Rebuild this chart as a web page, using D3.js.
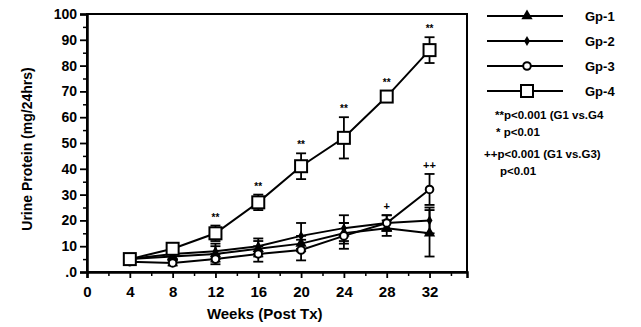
<!DOCTYPE html>
<html>
<head>
<meta charset="utf-8">
<script src="https://cdn.jsdelivr.net/npm/d3@7"></script>
<style>
  body { margin: 0; background: #fff; }
  text { font-family: "Liberation Sans", Arial, sans-serif; font-weight: bold; fill: #000; }
</style>
</head>
<body>
<div id="chart"></div>
<script>
// data
var weeks = [4, 8, 12, 16, 20, 24, 28, 32];
var gp1 = [5, 6, 7, 9, 11, 15, 17, 15];
var gp1Err = [1, 1.5, 3, 3, 3, 4, 3, 9];
var gp2 = [5, 7, 8, 10, 14, 17, 19, 20];
var gp2Err = [1, 2, 3, 3, 5, 5, 3, 5];
var gp3 = [4, 3.5, 5, 7, 8.5, 14, 19, 32];
var gp3Err = [1, 1, 2, 3, 4, 5, 3, 6];
var gp4 = [5, 9, 15, 27, 41, 52, 68, 86];
var gp4Err = [1, 1, 3, 3, 5, 8, 2, 5];
var xTicks = [0, 4, 8, 12, 16, 20, 24, 28, 32];
var yTicks = [0, 10, 20, 30, 40, 50, 60, 70, 80, 90, 100];
var gp4Marks = ["", "", "**", "**", "**", "**", "**", "**"];
var gp3Marks = ["", "", "", "", "", "", "+", "++"];
var legendNames = ["Gp-1", "Gp-2", "Gp-3", "Gp-4"];
var noteLines = ["**p<0.001  (G1 vs.G4", "* p<0.01", "++p<0.001  (G1 vs.G3)", "p<0.01"];

var margin = {top: 14, right: 174, bottom: 55, left: 87},
  width = 641 - margin.left - margin.right,
  height = 327 - margin.top - margin.bottom;

var svgRoot = d3.select("#chart").append("svg")
  .attr("width", 641).attr("height", 327);
var svg = svgRoot.append("g")
  .attr("transform", "translate(" + margin.left + "," + margin.top + ")");

var x = d3.scaleLinear().domain([0, 35.5]).range([0, width]);
var y = d3.scaleLinear().domain([0, 100]).range([height, 0]);

// frame
svg.append("rect").attr("width", width).attr("height", height)
  .attr("fill", "none").attr("stroke", "#000").attr("stroke-width", 2);

// minor ticks
svg.append("g").call(d3.axisLeft(y).tickValues(d3.range(5, 100, 10)).tickSize(4).tickFormat(""))
  .call(function(g) { g.select(".domain").remove(); })
  .selectAll("line").attr("stroke-width", 1.5);
svg.append("g").attr("transform", "translate(0," + height + ")")
  .call(d3.axisBottom(x).tickValues(d3.range(2, 35, 4)).tickSize(4).tickFormat(""))
  .call(function(g) { g.select(".domain").remove(); })
  .selectAll("line").attr("stroke-width", 1.5);

// major axes
var yAxis = svg.append("g")
  .call(d3.axisLeft(y).tickValues(yTicks).tickSize(7).tickPadding(3)
    .tickFormat(function(d) { return d === 0 ? ".0" : d; }));
yAxis.select(".domain").attr("stroke-width", 2.5);
yAxis.selectAll("line").attr("stroke-width", 1.8);
yAxis.selectAll("text").style("font-size", "14px");

var xAxis = svg.append("g").attr("transform", "translate(0," + height + ")")
  .call(d3.axisBottom(x).tickValues(xTicks).tickSize(6).tickPadding(8));
xAxis.select(".domain").attr("stroke-width", 2.5);
xAxis.selectAll("line").attr("stroke-width", 1.8);
xAxis.selectAll("text").style("font-size", "15px");

// axis titles
svgRoot.append("text")
  .attr("transform", "translate(32," + (margin.top + height / 2 + 6) + ")rotate(-90)")
  .attr("text-anchor", "middle").style("font-size", "14px")
  .text("Urine Protein (mg/24hrs)");
svgRoot.append("text")
  .attr("x", margin.left + x(16.6)).attr("y", 319)
  .attr("text-anchor", "middle").style("font-size", "15px")
  .text("Weeks (Post Tx)");

var groups = [
  {name: "Gp-1", vals: gp1, err: gp1Err, marker: "triangle"},
  {name: "Gp-2", vals: gp2, err: gp2Err, marker: "diamond"},
  {name: "Gp-3", vals: gp3, err: gp3Err, marker: "circle"},
  {name: "Gp-4", vals: gp4, err: gp4Err, marker: "square"}
];

function drawMarker(sel, type) {
  if (type === "square") {
    sel.append("rect").attr("x", -6).attr("y", -6).attr("width", 12).attr("height", 12)
      .attr("fill", "#fff").attr("stroke", "#000").attr("stroke-width", 2);
  } else if (type === "circle") {
    sel.append("circle").attr("r", 3.8)
      .attr("fill", "#fff").attr("stroke", "#000").attr("stroke-width", 2);
  } else if (type === "triangle") {
    sel.append("path").attr("d", d3.symbol().type(d3.symbolTriangle).size(55))
      .attr("fill", "#000");
  } else {
    sel.append("path").attr("d", d3.symbol().type(d3.symbolDiamond).size(30))
      .attr("fill", "#000");
  }
}

var line = d3.line()
  .x(function(d) { return x(d[0]); })
  .y(function(d) { return y(d[1]); });

groups.forEach(function(gp) {
  var pts = weeks.map(function(w, i) { return [w, gp.vals[i], gp.err[i]]; });
  var g = svg.append("g");
  // error bars
  var eb = g.selectAll(".eb").data(pts).enter().append("g")
    .attr("stroke", "#000").attr("stroke-width", 1.8);
  eb.append("line")
    .attr("x1", function(d) { return x(d[0]); }).attr("x2", function(d) { return x(d[0]); })
    .attr("y1", function(d) { return y(d[1] - d[2]); }).attr("y2", function(d) { return y(d[1] + d[2]); });
  eb.append("line")
    .attr("x1", function(d) { return x(d[0]) - 5; }).attr("x2", function(d) { return x(d[0]) + 5; })
    .attr("y1", function(d) { return y(d[1] + d[2]); }).attr("y2", function(d) { return y(d[1] + d[2]); });
  eb.append("line")
    .attr("x1", function(d) { return x(d[0]) - 5; }).attr("x2", function(d) { return x(d[0]) + 5; })
    .attr("y1", function(d) { return y(d[1] - d[2]); }).attr("y2", function(d) { return y(d[1] - d[2]); });
  g.append("path").datum(pts).attr("d", line)
    .attr("fill", "none").attr("stroke", "#000").attr("stroke-width", 2);
  g.selectAll(".mk").data(pts).enter().append("g")
    .attr("transform", function(d) { return "translate(" + x(d[0]) + "," + y(d[1]) + ")"; })
    .each(function() { drawMarker(d3.select(this), gp.marker); });
});

// significance marks
svg.selectAll(".s4").data(weeks).enter().append("text")
  .attr("x", function(d) { return x(d); })
  .attr("y", function(d, i) { return y(gp4[i] + gp4Err[i]) - 5; })
  .attr("text-anchor", "middle").attr("fill", "#000").style("font-size", "10px")
  .text(function(d, i) { return gp4Marks[i]; });
svg.selectAll(".s3").data(weeks).enter().append("text")
  .attr("x", function(d) { return x(d); })
  .attr("y", function(d, i) { return y(gp3[i] + gp3Err[i]) - 5; })
  .attr("text-anchor", "middle").attr("fill", "#000").style("font-size", "11px")
  .text(function(d, i) { return gp3Marks[i]; });

// legend
var legend = svgRoot.append("g").attr("transform", "translate(487,16)");
legendNames.forEach(function(n, i) {
  var row = legend.append("g").attr("transform", "translate(0," + (i * 25) + ")");
  row.append("line").attr("x1", 0).attr("x2", 76).attr("stroke", "#000").attr("stroke-width", 2);
  var m = row.append("g").attr("transform", "translate(40,0)");
  drawMarker(m, groups[i].marker);
  row.append("text").attr("x", 98).attr("y", 5).style("font-size", "13px").text(n);
});

var notes = svgRoot.append("g");
notes.selectAll("text").data(noteLines).enter().append("text")
  .attr("x", function(d, i) { return [495, 496, 484, 500][i]; })
  .attr("y", function(d, i) { return [119, 136, 158, 175][i]; })
  .style("font-size", "11.5px")
  .text(function(d) { return d; });
</script>
</body>
</html>
